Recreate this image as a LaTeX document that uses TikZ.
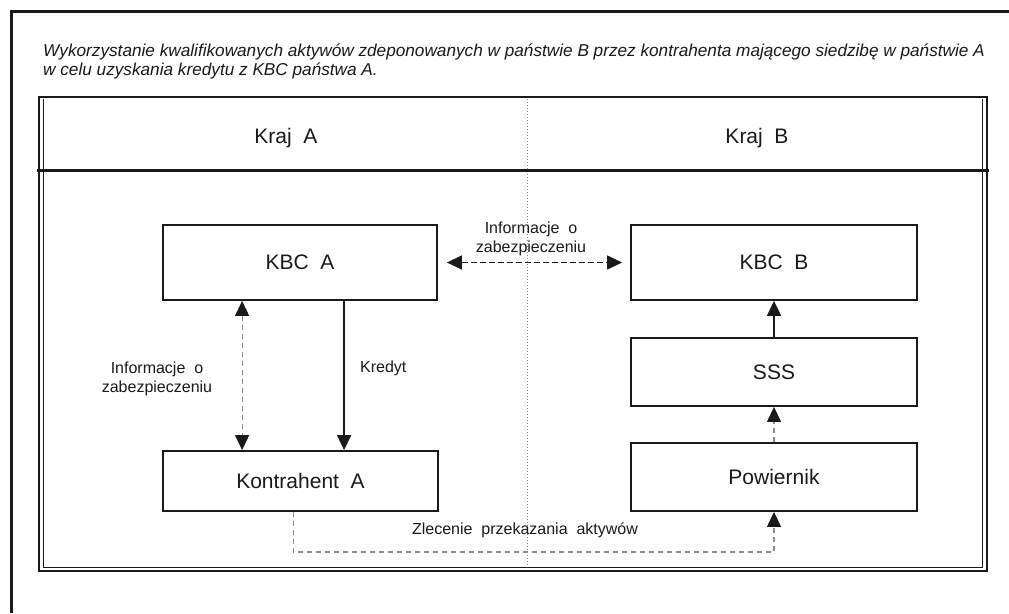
\documentclass[tikz,border=0pt]{standalone}
\usepackage{fontspec}
\setmainfont{Liberation Sans}
\usetikzlibrary{arrows.meta}
\definecolor{ink}{HTML}{1A1A1A}
\definecolor{dgrey}{HTML}{8C8C8C}
\begin{document}
\begin{tikzpicture}[x=1pt,y=-1pt,
  box/.style={draw=ink,line width=1.8pt,fill=white,text=ink,inner sep=0pt,font=\fontsize{21}{24}\selectfont},
  lbl/.style={text=ink,inner sep=0pt,align=center,font=\fontsize{16}{18.5}\selectfont},
  tip/.style={-{Triangle[length=15pt,width=14pt,color=ink]}},
  tips/.style={{Triangle[length=15pt,width=14pt,color=ink]}-{Triangle[length=15pt,width=14pt,color=ink]}},
  solidarr/.style={draw=ink,line width=1.8pt},
  greydash/.style={draw=dgrey,line width=1.2pt,dash pattern=on 5pt off 4pt},
  titl/.style={anchor=base west,text=ink,inner sep=0pt,font=\fontsize{17.2}{20}\selectfont\itshape},
]
\useasboundingbox (0,0) rectangle (1009,613);
\fill[white] (0,0) rectangle (1009,613);
% page frame (top and left)
\draw[ink,line width=3pt] (11,613) -- (11,11) -- (1009,11);
% title
\node[titl] (t1) at (43,56)
  {Wykorzystanie kwalifikowanych aktywów zdeponowanych w państwie B przez kontrahenta mającego siedzibę w państwie A};
\node[titl] (t2) at (43,75)
  {w celu uzyskania kredytu z KBC państwa A.};
% inner frame
\draw[dgrey,dotted,line width=1pt] (527,99) -- (527,569);
\draw[ink,line width=2.4pt] (39,97) rectangle (987,571);
\draw[ink,line width=0.9pt] (43.5,99) -- (43.5,567) -- (982.5,567) -- (982.5,99);
\draw[ink,line width=3pt] (37,170.5) -- (989,170.5);
\node[lbl,font=\fontsize{21}{24}\selectfont] (kra) at (286,138) {Kraj\ \ A};
\node[lbl,font=\fontsize{21}{24}\selectfont] (krb) at (757,138) {Kraj\ \ B};
% boxes
\node[box,minimum width=274pt,minimum height=75pt] (ka) at (300,262.5) {KBC\ \ A};
\node[box,minimum width=286pt,minimum height=75pt] (kb) at (774,262.5) {KBC\ \ B};
\node[box,minimum width=286pt,minimum height=68pt] (sss) at (774,372) {SSS};
\node[box,minimum width=286pt,minimum height=68pt] (pow) at (774,477) {Powiernik};
\node[box,minimum width=275pt,minimum height=60pt] (kon) at (300.5,481) {Kontrahent\ \ A};
% connectors
\draw[greydash,tips] ([xshift=80pt]ka.south west) -- ([xshift=80pt]kon.north west);
\draw[solidarr,tip] ([xshift=182pt]ka.south west) -- ([xshift=182pt]kon.north west);
\draw[draw=ink,line width=1.3pt,dash pattern=on 6pt off 3pt,tips,shorten <=9pt,shorten >=8pt] (ka.east) -- (kb.west);
\draw[solidarr,tip] (sss.north) -- (kb.south);
\draw[greydash,tip] (pow.north) -- (sss.south);
\draw[greydash,tip] ([xshift=131pt]kon.south west) -- ++(0,40) -| (pow.south);
% labels
\node[lbl] (l1) at (531,239) {Informacje\ \ o\\zabezpieczeniu};
\node[lbl] (l2) at (157,379) {Informacje\ \ o\\zabezpieczeniu};
\node[lbl,anchor=west] (l3) at (360,368) {Kredyt};
\node[lbl] (l4) at (525,530) {Zlecenie\ \ przekazania\ \ aktywów};
\end{tikzpicture}
\end{document}
